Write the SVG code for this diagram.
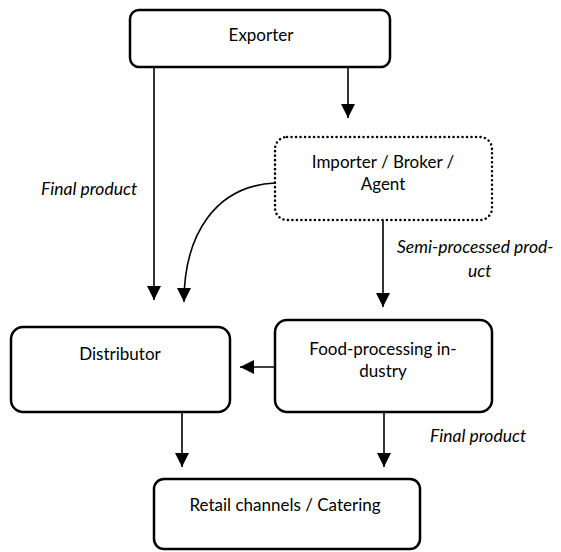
<svg xmlns="http://www.w3.org/2000/svg" width="561" height="552" viewBox="0 0 561 552">
<defs>
<style>
.box{fill:#fff;stroke:#000;stroke-width:2.5}
.dot{fill:#fff;stroke:#000;stroke-width:2.5;stroke-dasharray:0.1 4.4;stroke-linecap:round}
.t{font-family:Lato,"Open Sans","Liberation Sans",sans-serif;font-size:17px;fill:#000;text-anchor:middle}
.it{font-family:Lato,"Open Sans","Liberation Sans",sans-serif;font-size:17.5px;font-style:italic;fill:#000}
.c{fill:none;stroke:#000;stroke-width:1.6}
</style>
<marker id="ah" markerUnits="userSpaceOnUse" markerWidth="14" markerHeight="16" viewBox="0 0 14 16" refX="14" refY="7" orient="auto">
<path d="M0,0 L14,7 L0,14 Z" fill="#000"/>
</marker>
</defs>
<rect width="561" height="552" fill="#fff"/>
<g id="connectors">
<path class="c" d="M154,67 V300" marker-end="url(#ah)"/>
<path class="c" d="M348,67 V118" marker-end="url(#ah)"/>
<path class="c" d="M275,183 C215,186 184,235 184,302" marker-end="url(#ah)"/>
<path class="c" d="M383,220 V307" marker-end="url(#ah)"/>
<path class="c" d="M275,367 H240" marker-end="url(#ah)"/>
<path class="c" d="M182,412 V467" marker-end="url(#ah)"/>
<path class="c" d="M384,412 V467" marker-end="url(#ah)"/>
</g>
<g id="labels">
<text class="it" x="41" y="195">Final product</text>
<text class="it" x="397" y="253">Semi-processed prod-</text>
<text class="it" x="468" y="277">uct</text>
<text class="it" x="430" y="442">Final product</text>
</g>
<g id="exporter">
<rect class="box" x="130" y="10" width="260" height="57" rx="9"/>
<text class="t" x="261" y="41">Exporter</text>
</g>
<g id="importer">
<rect class="dot" x="275" y="137" width="217" height="83" rx="12"/>
<text class="t" x="383" y="168">Importer / Broker /</text>
<text class="t" x="383" y="190">Agent</text>
</g>
<g id="distributor">
<rect class="box" x="11" y="327" width="219" height="85" rx="12"/>
<text class="t" x="120" y="360">Distributor</text>
</g>
<g id="food">
<rect class="box" x="275" y="320" width="217" height="92" rx="12"/>
<text class="t" x="383" y="355">Food-processing in-</text>
<text class="t" x="383" y="377">dustry</text>
</g>
<g id="retail">
<rect class="box" x="154" y="479" width="266" height="70" rx="10"/>
<text class="t" x="285" y="511">Retail channels / Catering</text>
</g>
</svg>
